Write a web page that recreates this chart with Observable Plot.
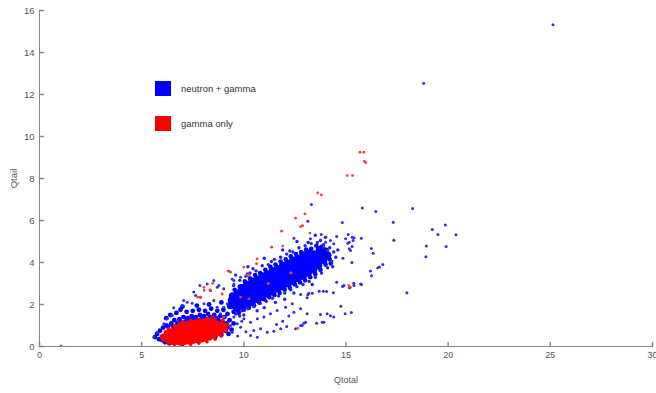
<!DOCTYPE html>
<html><head><meta charset="utf-8">
<script src="https://cdn.jsdelivr.net/npm/d3@7"></script>
<script src="https://cdn.jsdelivr.net/npm/@observablehq/plot@0.6"></script>
<style>
body{margin:0;background:#fff;font-family:"Liberation Sans",Arial,sans-serif;}
#wrap{position:relative;width:656px;height:393px;}
.lg{position:absolute;left:155px;font-size:9.5px;color:#333;display:flex;align-items:center;}
.lg span.sw{display:inline-block;width:16px;height:15px;margin-right:10px;}
</style></head><body><div id="wrap"></div>
<script>
const xTicks = [0, 5, 10, 15, 20, 25, 30];
const yTicks = [0, 2, 4, 6, 8, 10, 12, 14, 16];
const seriesNames = ["neutron + gamma", "gamma only"];
const seriesColors = ["#0000ff", "#ff0000"];

// dense core of the neutron band
const bandCore = [
[9.35,1.95],[9.4,2.2],[9.45,2.4],
[9.65,1.8],[9.6,2.05],[9.65,2.3],[9.7,2.55],
[9.9,1.9],[9.85,2.15],[9.9,2.4],[9.95,2.6],[9.9,2.8],
[10.15,2.0],[10.1,2.25],[10.15,2.5],[10.2,2.75],[10.15,2.95],
[10.4,2.1],[10.35,2.35],[10.4,2.6],[10.45,2.85],[10.4,3.1],
[10.65,2.25],[10.6,2.5],[10.65,2.75],[10.7,3.0],[10.65,3.2],
[10.9,2.35],[10.85,2.6],[10.9,2.85],[10.95,3.1],[10.9,3.35],
[11.15,2.5],[11.1,2.75],[11.15,3.0],[11.2,3.25],[11.15,3.45],
[11.4,2.6],[11.35,2.85],[11.4,3.1],[11.45,3.35],[11.4,3.6],
[11.65,2.75],[11.6,3.0],[11.65,3.25],[11.7,3.5],[11.65,3.7],
[11.9,2.85],[11.85,3.1],[11.9,3.35],[11.95,3.6],[11.9,3.85],
[12.15,3.0],[12.1,3.25],[12.15,3.5],[12.2,3.75],[12.15,3.95],
[12.4,3.1],[12.35,3.35],[12.4,3.6],[12.45,3.85],[12.4,4.1],
[12.65,3.25],[12.6,3.5],[12.65,3.75],[12.7,4.0],[12.65,4.2],
[12.9,3.35],[12.85,3.6],[12.9,3.85],[12.95,4.1],[12.9,4.35],
[13.15,3.5],[13.1,3.75],[13.15,4.0],[13.2,4.25],[13.15,4.45],
[13.4,3.65],[13.35,3.9],[13.4,4.15],[13.45,4.4],
[13.65,3.85],[13.6,4.1],[13.65,4.35],[13.7,4.6],
[13.9,4.1],[13.85,4.35],[13.9,4.55],
[14.1,4.35]
];

// ragged rim of the neutron band
const bandRim = [
[9.55,2.7],[9.8,2.85],[10.05,3.1],[10.3,3.25],[10.55,3.4],[10.8,3.5],[11.05,3.65],[11.3,3.8],[11.55,3.9],[11.8,4.05],
[12.05,4.15],[12.3,4.3],[12.55,4.4],[12.8,4.5],[13.05,4.62],[13.3,4.65],[13.55,4.8],[13.8,4.75],[14.05,4.6],[14.2,4.15],[14.25,3.95],
[9.5,1.65],[9.75,1.6],[10.0,1.75],[10.25,1.85],[10.5,1.95],[10.75,2.1],[11.0,2.25],[11.25,2.35],[11.5,2.45],[11.75,2.55],
[12.0,2.7],[12.25,2.8],[12.5,2.95],[12.75,3.05],[13.0,3.15],[13.25,3.3],[13.5,3.45],[13.75,3.65],[14.0,3.9]
];

// fuzzy edges of the neutron band
const bandEdge = [
[9.5,2.9],[9.8,3.15],[10.1,3.35],[10.3,3.5],[10.6,3.6],[10.9,3.85],[11.2,3.9],[11.5,4.15],[11.8,4.25],[12.1,4.4],
[12.4,4.5],[12.7,4.7],[13.0,4.8],[13.3,4.9],[13.6,4.95],[13.9,4.85],[14.2,4.7],[14.4,4.5],[14.0,5.2],[13.5,5.3],
[12.6,5.0],[11.9,4.6],[11.0,4.2],[10.2,3.8],[9.6,3.4],
[9.6,1.55],[9.9,1.7],[10.2,1.8],[10.5,1.9],[10.8,2.05],[11.1,2.15],[11.4,2.3],[11.7,2.4],[12.0,2.55],[12.3,2.7],
[12.6,2.85],[12.9,2.95],[13.2,3.1],[13.5,3.3],[13.8,3.5],[14.1,3.75],[14.3,4.05],[14.5,4.25],[10.0,1.5],[11.0,1.85],[12.0,2.25],
[10.45,3.7],[11.35,4.05],[12.25,4.55],[13.15,4.95],[13.75,5.05],[14.6,4.6],[14.35,3.8],[13.35,2.95],[12.45,2.55],[11.55,2.1],
[10.65,1.7],[9.8,1.45]
];

// neutron events around the gamma blob
const lowHalo = [
[5.65,0.45],[5.75,0.6],[5.85,0.35],[5.9,0.75],[6.0,0.3],[6.05,0.9],[6.15,0.2],[6.2,1.0],[6.35,0.15],
[6.3,0.95],[6.45,1.1],[6.55,0.95],[6.6,1.25],[6.75,1.1],[6.85,1.3],[6.95,1.15],[7.05,1.4],[7.15,1.2],[7.25,1.35],
[7.35,1.25],[7.45,1.45],[7.55,1.3],[7.65,1.4],[7.75,1.25],[7.85,1.5],[7.95,1.35],[8.05,1.45],[8.15,1.3],[8.25,1.55],
[8.35,1.4],[8.45,1.3],[8.55,1.5],[8.65,1.35],[8.75,1.25],[8.85,1.45],[8.95,1.2],[9.05,1.4],[9.15,1.1],[9.2,0.9],
[9.3,1.25],[9.1,0.75],[9.25,0.6],
[6.4,1.5],[6.7,1.6],[6.9,1.75],[7.2,1.65],[7.5,1.7],[7.8,1.75],[8.1,1.7],[8.4,1.8],[8.7,1.7],[9.0,1.75],
[6.2,1.35],[7.0,1.9],[7.7,1.95],[8.3,2.0],[8.9,2.1],[9.2,1.55],
[8.6,0.45],[8.9,0.55],[9.4,0.8],[9.5,1.1]
];

// sparse neutron events
const blueScatter = [
[25.13,15.32],[18.8,12.54],[15.8,6.59],[16.46,6.43],[18.26,6.57],[17.31,5.92],[19.86,5.79],[19.22,5.57],[19.5,5.33],[20.38,5.32],
[17.34,5.06],[18.93,4.79],[19.9,4.76],[18.91,4.27],[17.98,2.56],
[14.82,5.9],[15.75,5.16],[15.11,5.33],[16.24,4.67],[16.33,4.44],[16.8,3.9],[16.64,3.78],[16.56,3.75],[16.2,3.59],[16.25,3.37],
[15.29,4.0],[14.85,4.2],[15.16,4.65],[15.22,4.57],[15.16,4.97],[15.35,5.05],[15.39,5.18],[15.3,4.76],[15.09,4.92],[13.31,6.76],
[13.13,5.97],[12.45,5.16],[13.79,5.33],[14.54,5.24],[14.0,4.97],[14.24,5.05],[14.4,4.89],[13.92,4.73],[14.1,4.57],[13.26,5.13],
[14.98,5.13],[15.3,5.2],
[14.83,2.86],[15.17,2.8],[15.39,2.9],[15.76,2.95],[14.54,3.06],[14.9,2.9],[15.38,3.01],[15.71,2.98],[13.69,2.63],[13.89,2.63],
[14.05,2.62],[14.38,2.56],[13.35,2.54],[13.13,2.46],[12.78,2.48],[13.18,2.54],[13.1,2.32],[14.75,1.92],[14.96,1.56],[15.26,1.62],
[14.4,1.4],[14.24,1.46],[14.08,1.56],[13.75,1.52],[13.84,1.16],[13.56,1.11],[13.1,1.56],[12.94,1.11],[12.78,1.0],[13.92,1.16],
[13.02,1.16],[12.86,1.0],[12.53,0.84],[12.45,1.63],[12.78,1.8],
[10.0,1.32],[10.33,1.16],[10.66,1.32],[10.98,1.4],[11.3,1.56],[11.63,1.71],[12.04,1.87],[12.37,2.03],[10.49,0.76],[10.82,0.84],
[11.15,0.68],[11.47,0.73],[11.8,0.84],[10.33,0.52],[10.66,0.44],[9.51,1.4],[9.68,1.08],[9.84,0.92],[9.35,1.0],[9.43,0.68],
[9.02,1.87],[8.86,1.56],[9.19,2.03],[8.7,1.87],[8.53,2.19],[8.37,2.67],[8.7,2.82],[8.21,2.98],[8.53,3.14],[9.51,3.14],
[9.84,3.3],[10.17,3.46],[8.05,2.03],[7.88,2.35],
[7.85,2.9],[7.64,2.43],[7.23,2.11],[7.06,2.19],[7.47,2.06],[6.57,1.84],[6.98,1.95],[8.78,2.9],[9.02,2.75],[9.43,3.22],
[9.51,2.98],[7.55,2.59],[5.6,0.44],[5.76,0.68],[6.08,1.08],[6.25,1.32],[6.5,1.48],
[11.9,1.2],[12.2,1.45],[11.6,1.05],[12.1,0.95],[9.7,0.5],[10.1,0.7],[9.9,1.2]
];

// dense core of the gamma-only blob
const redCore = [
[6.1,0.45],
[6.3,0.35],[6.3,0.6],
[6.5,0.25],[6.5,0.45],[6.5,0.7],
[6.7,0.25],[6.7,0.45],[6.7,0.65],[6.7,0.85],
[6.9,0.22],[6.9,0.42],[6.9,0.62],[6.9,0.82],[6.9,0.98],
[7.1,0.25],[7.1,0.45],[7.1,0.65],[7.1,0.85],[7.1,1.02],
[7.3,0.28],[7.3,0.48],[7.3,0.68],[7.3,0.88],[7.3,1.05],
[7.5,0.3],[7.5,0.5],[7.5,0.7],[7.5,0.9],[7.5,1.08],
[7.7,0.33],[7.7,0.53],[7.7,0.73],[7.7,0.93],[7.7,1.1],
[7.9,0.36],[7.9,0.56],[7.9,0.76],[7.9,0.96],[7.9,1.12],
[8.1,0.4],[8.1,0.6],[8.1,0.8],[8.1,1.0],[8.1,1.15],
[8.3,0.45],[8.3,0.65],[8.3,0.85],[8.3,1.05],[8.3,1.18],
[8.5,0.55],[8.5,0.75],[8.5,0.95],[8.5,1.12],
[8.7,0.65],[8.7,0.85],[8.7,1.05],
[8.9,0.78],[8.9,0.98],
[9.05,0.95]
];

// fuzzy edge of the gamma-only blob
const redEdge = [
[5.95,0.5],[6.05,0.3],[6.15,0.7],[6.3,0.15],[6.6,0.08],[7.0,0.06],[7.4,0.1],[7.8,0.15],[8.2,0.22],[8.6,0.35],
[8.9,0.5],[9.15,0.75],[9.2,1.05],[8.95,1.25],[8.6,1.3],[8.2,1.35],[7.8,1.3],[7.4,1.25],[7.0,1.18],[6.6,1.0],
[6.3,0.85],[8.45,1.4]
];

// sparse gamma-only events
const redScatter = [
[15.68,9.25],[15.87,9.25],[15.9,8.82],[15.97,8.76],[15.06,8.14],[15.32,8.14],[13.62,7.32],[13.79,7.22],[12.99,6.32],[12.53,6.11],
[12.78,5.71],[12.87,5.75],[13.23,5.4],[11.85,5.49],[11.36,4.73],[11.9,4.78],[10.65,4.17],[10.17,3.38],[10.28,3.4],[9.35,3.54],
[15.14,2.9],[15.22,2.82],[9.22,3.59],[9.28,3.59],[8.48,3.01],[8.06,2.67],[8.34,2.7],[7.75,2.35],[7.88,2.35],[8.94,2.5],
[1.06,0.03],[12.64,0.87],[10.62,3.94],[9.84,2.35],[10.0,3.78],[8.05,2.82],[10.25,2.27],[9.02,1.4],[11.2,3.0],[12.3,3.5]
];

const X = d => d[0], Y = d => d[1];
const blue = seriesColors[0], red = seriesColors[1];
const tickShape = {draw(context, l) { context.moveTo(0, 0); context.lineTo(0, -l); }};

const plot = Plot.plot({
  width: 656, height: 393,
  marginLeft: 39, marginRight: 4, marginTop: 10, marginBottom: 47,
  style: {fontFamily: "Liberation Sans, Arial, sans-serif", fontSize: "9px", color: "#555", background: "#fff", overflow: "visible"},
  x: {domain: [0, 30]},
  y: {domain: [0, 16]},
  marks: [
    Plot.dot(bandCore, {x: X, y: Y, r: 3.8, fill: blue, stroke: "none"}),
    Plot.dot(bandRim, {x: X, y: Y, r: 2.3, fill: blue, stroke: "none"}),
    Plot.dot(lowHalo, {x: X, y: Y, r: 2.4, fill: blue, stroke: "none"}),
    Plot.dot(bandEdge, {x: X, y: Y, r: 1.7, fill: "#2020f0", stroke: "none"}),
    Plot.dot(blueScatter, {x: X, y: Y, r: 1.5, fill: "#3030e0", stroke: "none"}),
    Plot.dot(redCore, {x: X, y: Y, r: 3.8, fill: red, stroke: "none"}),
    Plot.dot(redEdge, {x: X, y: Y, r: 1.7, fill: red, stroke: "none"}),
    Plot.dot(redScatter, {x: X, y: Y, r: 1.4, fill: "#e84040", stroke: "none"}),
    Plot.ruleY([0], {stroke: "#888"}),
    Plot.ruleX([0], {stroke: "#888"}),
    Plot.vector(xTicks, {x: d => d, y: yTicks[0], length: 4, rotate: 0, anchor: "start", shape: tickShape, stroke: "#888"}),
    Plot.vector(yTicks, {x: xTicks[0], y: d => d, length: 4, rotate: 90, anchor: "start", shape: tickShape, stroke: "#888"}),
    Plot.axisX(xTicks, {tickSize: 0, tickPadding: 5, fill: "#555", label: "Qtotal", labelAnchor: "center", labelArrow: "none", labelOffset: 36, fontSize: 9}),
    Plot.axisY(yTicks, {tickSize: 0, tickPadding: 5, fill: "#555", label: "Qtail", labelAnchor: "center", labelArrow: "none", labelOffset: 29, fontSize: 9.5})
  ]
});
const wrap = document.getElementById("wrap");
wrap.append(plot);
const tops = [81, 116];
seriesNames.forEach((name, i) => {
  const div = document.createElement("div");
  div.className = "lg";
  div.style.top = tops[i] + "px";
  const sw = document.createElement("span");
  sw.className = "sw";
  sw.style.background = seriesColors[i];
  div.append(sw, document.createTextNode(name));
  wrap.append(div);
});
</script></body></html>
